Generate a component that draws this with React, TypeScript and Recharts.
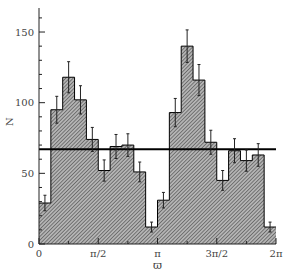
import { Area, ComposedChart, ErrorBar, Label, ReferenceLine, Scatter, XAxis, YAxis } from "recharts";

// counts per bin of varpi, 20 bins over 0..2pi
const counts = [29, 95, 118, 102, 74, 52, 69, 70, 51, 12, 31, 93, 140, 116, 72, 45, 66, 59, 63, 12];
const errors = [5.5, 9.5, 11, 10, 8.5, 7.5, 8.5, 8, 7, 3.5, 5.5, 10, 11.5, 11, 8.5, 7, 8.5, 7.5, 8, 3.5];
const meanN = 67;

const TWO_PI = 2 * Math.PI;
const binWidth = TWO_PI / counts.length;

const bottomTicks = [0, 1, 2, 3, 4, 5, 6, 7, 8].map((k) => (k * Math.PI) / 4);
const bottomLabels = ["0", "", "π/2", "", "π", "", "3π/2", "", "2π"];
const topTicks = [0, 0.5, 1, 1.5, 2, 2.5, 3, 3.5, 4, 4.5, 5, 5.5, 6];
const yTicks = [0, 10, 20, 30, 40, 50, 60, 70, 80, 90, 100, 110, 120, 130, 140, 150, 160];
const yLabels = [0, 50, 100, 150];

// step outline: one point per bin edge, last edge repeats the last bin
const steps = counts.map((n, i) => ({ x: i * binWidth, n })).concat([{ x: TWO_PI, n: counts[counts.length - 1] }]);
const centers = counts.map((n, i) => ({ x: (i + 0.5) * binWidth, n, err: errors[i] }));

const INK = "#222";
const FONT = "DejaVu Serif";

function BottomTick(props: any) {
  const { x, y, index } = props;
  const major = index % 2 === 0;
  const label = bottomLabels[index];
  return (
    <g>
      <line x1={x} y1={y} x2={x} y2={y - (major ? 6 : 3)} stroke={INK} />
      {label && (
        <text x={x} y={y + 13} textAnchor="middle" fontFamily={FONT} fontSize={10} fill="#444">
          {label}
        </text>
      )}
    </g>
  );
}

function TopTick(props: any) {
  const { x, y, payload } = props;
  const major = payload.value % 2 === 0;
  return <line x1={x} y1={y} x2={x} y2={y + (major ? 6 : 3)} stroke={INK} />;
}

function LeftTick(props: any) {
  const { x, y, payload } = props;
  const major = yLabels.includes(payload.value);
  return (
    <g>
      <line x1={x} y1={y} x2={x + (major ? 6 : 3)} y2={y} stroke={INK} />
      {major && (
        <text x={x - 5} y={y + 3.5} textAnchor="end" fontFamily={FONT} fontSize={10} fill="#444">
          {payload.value}
        </text>
      )}
    </g>
  );
}

function RightTick(props: any) {
  const { x, y, payload } = props;
  const major = yLabels.includes(payload.value);
  return <line x1={x} y1={y} x2={x - (major ? 6 : 3)} y2={y} stroke={INK} />;
}

export default function App() {
  return (
    <div style={{ position: "absolute", left: 0, top: 0, background: "#fff" }}>
      <ComposedChart width={288} height={273} data={steps} margin={{ top: 8, right: 12, bottom: 0, left: 0 }}>
        <defs>
          <pattern id="hatch" patternUnits="userSpaceOnUse" width="2.6" height="2.6" patternTransform="rotate(45)">
            <rect width="2.6" height="2.6" fill="#b4b4b4" />
            <line x1="0" y1="0" x2="0" y2="2.6" stroke="#333" strokeWidth="1" />
          </pattern>
        </defs>
        <XAxis
          xAxisId="b"
          dataKey="x"
          type="number"
          domain={[0, TWO_PI]}
          allowDataOverflow
          ticks={bottomTicks}
          interval={0}
          height={29}
          tickSize={0}
          tickMargin={0}
          tickLine={false}
          tick={<BottomTick />}
          axisLine={{ stroke: INK }}
        >
          <Label value="ϖ" position="insideBottom" offset={4} fontFamily={FONT} fontSize={11} fill="#444" />
        </XAxis>
        <XAxis
          xAxisId="t"
          orientation="top"
          dataKey="x"
          type="number"
          domain={[0, TWO_PI]}
          allowDataOverflow
          ticks={topTicks}
          interval={0}
          height={0}
          tickSize={0}
          tickMargin={0}
          tickLine={false}
          tick={<TopTick />}
          axisLine={{ stroke: INK }}
        />
        <YAxis
          yAxisId="l"
          type="number"
          domain={[0, 167]}
          allowDataOverflow
          ticks={yTicks}
          interval={0}
          width={39}
          tickSize={0}
          tickMargin={0}
          tickLine={false}
          tick={<LeftTick />}
          axisLine={{ stroke: INK }}
        >
          <Label value="N" angle={-90} position="insideLeft" offset={9} fontFamily={FONT} fontSize={10} fill="#444" />
        </YAxis>
        <YAxis
          yAxisId="r"
          orientation="right"
          type="number"
          domain={[0, 167]}
          allowDataOverflow
          ticks={yTicks}
          interval={0}
          width={0}
          tickSize={0}
          tickMargin={0}
          tickLine={false}
          tick={<RightTick />}
          axisLine={{ stroke: INK }}
        />
        <Area
          xAxisId="b"
          yAxisId="l"
          type="stepAfter"
          dataKey="n"
          stroke="#000"
          strokeWidth={1}
          fill="url(#hatch)"
          fillOpacity={1}
          isAnimationActive={false}
        />
        <ReferenceLine xAxisId="b" yAxisId="l" y={meanN} stroke="#000" strokeWidth={2} />
        <Scatter
          xAxisId="b"
          yAxisId="l"
          data={centers}
          dataKey="n"
          shape={() => <g />}
          isAnimationActive={false}
        >
          <ErrorBar dataKey="err" direction="y" width={1.5} stroke="#222" strokeWidth={1} isAnimationActive={false} />
        </Scatter>
      </ComposedChart>
    </div>
  );
}
